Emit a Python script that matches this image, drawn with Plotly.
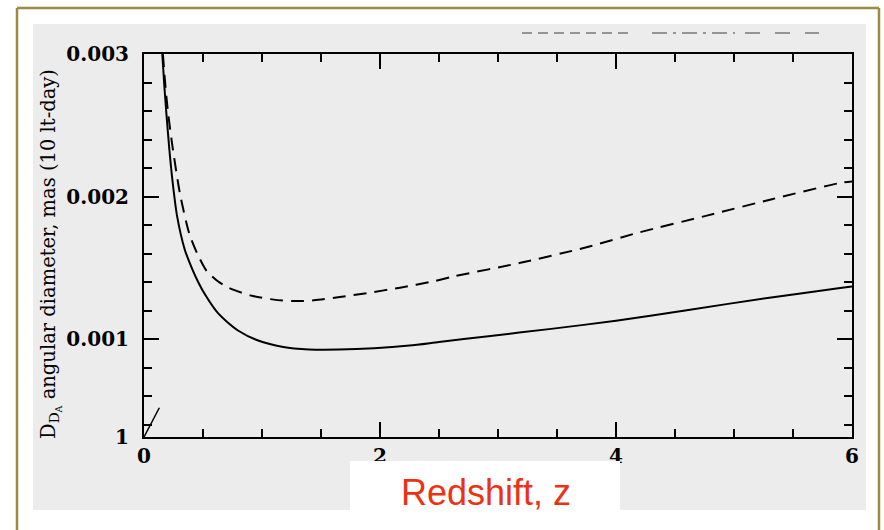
import plotly.graph_objects as go

# Angular size of a 10 light-day object versus redshift
z_solid = [0.155, 0.172, 0.19, 0.215, 0.243, 0.28, 0.345, 0.40, 0.46, 0.52, 0.62, 0.70,
           0.80, 0.95, 1.18, 1.40, 1.65, 1.95, 2.25, 2.50, 2.90, 3.45, 4.00, 4.60,
           5.30, 5.90, 6.00]
theta_solid = [0.00300, 0.00278, 0.00258, 0.00233, 0.00210, 0.001865, 0.00163, 0.00151,
               0.00140, 0.00131, 0.00119, 0.001125, 0.00106, 0.000997, 0.000946,
               0.000929, 0.000928, 0.000937, 0.000956, 0.000981, 0.00102, 0.001073,
               0.00113, 0.001204, 0.001292, 0.001359, 0.00137]

z_dashed = [0.16, 0.182, 0.205, 0.24, 0.305, 0.384, 0.452, 0.53, 0.62, 0.72, 0.90, 1.10,
            1.27, 1.44, 1.66, 1.89, 2.17, 2.45, 2.62, 3.19, 3.75, 4.20, 4.77, 5.33,
            5.90, 6.00]
theta_dashed = [0.00300, 0.00277, 0.00258, 0.00236, 0.00202, 0.00174, 0.00160, 0.00148,
                0.00141, 0.00136, 0.001308, 0.001278, 0.001268, 0.001273, 0.001296,
                0.001324, 0.001362, 0.001406, 0.00144, 0.001536, 0.001645, 0.00175,
                0.001867, 0.001984, 0.002096, 0.002107]

# small stroke at the lower-left corner
z_stroke = [0.0, 0.13]
theta_stroke = [0.000315, 0.00052]

x_ticks = [0, 2, 4, 6]
x_ticktext = ["0", "2", "4", "6"]
y_ticks = [0.000315, 0.001, 0.002, 0.003]
y_ticktext = ["1", "0.001", "0.002", "0.003"]

W, H = 884, 530
L, R, T, B = 144, 852, 54, 437


def px(x):
    return (x - L) / (R - L)


def py(y):
    return (B - y) / (B - T)


fig = go.Figure()
fig.add_trace(go.Scatter(x=z_solid, y=theta_solid, mode="lines",
                         line=dict(color="black", width=2, shape="spline", smoothing=0.7),
                         showlegend=False))
fig.add_trace(go.Scatter(x=z_dashed, y=theta_dashed, mode="lines",
                         line=dict(color="black", width=2, dash="13px,8px",
                                   shape="spline", smoothing=0.7),
                         showlegend=False))
fig.add_trace(go.Scatter(x=z_stroke, y=theta_stroke, mode="lines",
                         line=dict(color="black", width=1.5), showlegend=False))

tick_font = dict(family="DejaVu Serif", size=20, color="black", weight="bold")

fig.update_xaxes(range=[0, 6], tickvals=x_ticks, ticktext=x_ticktext,
                 ticks="inside", ticklen=15, tickwidth=2, tickcolor="black",
                 showline=True, linecolor="black", linewidth=2, mirror="allticks",
                 showgrid=False, zeroline=False, tickfont=tick_font,
                 minor=dict(tick0=0, dtick=0.5, ticks="inside", ticklen=8,
                            tickwidth=2, tickcolor="black", showgrid=False))
fig.update_yaxes(range=[0.000315, 0.003], tickvals=y_ticks, ticktext=y_ticktext,
                 ticks="inside", ticklen=15, tickwidth=2, tickcolor="black",
                 showline=True, linecolor="black", linewidth=2, mirror="allticks",
                 showgrid=False, zeroline=False, tickfont=tick_font,
                 ticklabelstandoff=9,
                 minor=dict(tick0=0, dtick=0.0002, ticks="inside", ticklen=8,
                            tickwidth=2, tickcolor="black", showgrid=False))

shapes = [
    # light textured panel
    dict(type="rect", xref="paper", yref="paper", layer="below",
         x0=px(33), x1=px(866), y0=py(510), y1=py(24),
         fillcolor="#ececec", line=dict(width=0)),
    # white label box under the axis title
    dict(type="rect", xref="paper", yref="paper", layer="above",
         x0=px(350), x1=px(620), y0=py(540), y1=py(461),
         fillcolor="white", line=dict(width=0)),
    # gold frame
    dict(type="line", xref="paper", yref="paper", x0=px(17), x1=px(17),
         y0=py(540), y1=py(8), line=dict(color="#9c8a40", width=2.5)),
    dict(type="line", xref="paper", yref="paper", x0=px(17), x1=px(879),
         y0=py(8), y1=py(8), line=dict(color="#9c8a40", width=2.5)),
    dict(type="line", xref="paper", yref="paper", x0=px(879), x1=px(879),
         y0=py(540), y1=py(8), line=dict(color="#9c8a40", width=2.5)),
    # key line samples above the frame
    dict(type="line", xref="paper", yref="paper", x0=px(522), x1=px(630),
         y0=py(33), y1=py(33), line=dict(color="#777777", width=1.5, dash="10px,6px")),
    dict(type="line", xref="paper", yref="paper", x0=px(652), x1=px(735),
         y0=py(33), y1=py(33), line=dict(color="#777777", width=1.5, dash="longdashdot")),
    dict(type="line", xref="paper", yref="paper", x0=px(745), x1=px(819),
         y0=py(33), y1=py(33), line=dict(color="#777777", width=1.5, dash="longdash")),
]

annotations = [
    dict(text="Redshift, z", xref="paper", yref="paper", x=px(486), y=py(492),
         showarrow=False, xanchor="center", yanchor="middle",
         font=dict(family="Liberation Sans", size=36, color="#eb3214")),
    dict(text="D<sub>D<sub>A</sub></sub> angular diameter, mas (10 lt-day)",
         xref="paper", yref="paper", x=px(51), y=py(254), textangle=-90,
         showarrow=False, xanchor="center", yanchor="middle",
         font=dict(family="DejaVu Serif", size=19.5, color="black")),
]

fig.update_layout(width=W, height=H, margin=dict(l=L, r=W - R, t=T, b=H - B),
                  paper_bgcolor="white", plot_bgcolor="rgba(0,0,0,0)",
                  shapes=shapes, annotations=annotations, showlegend=False)

fig.write_html("out.html")
